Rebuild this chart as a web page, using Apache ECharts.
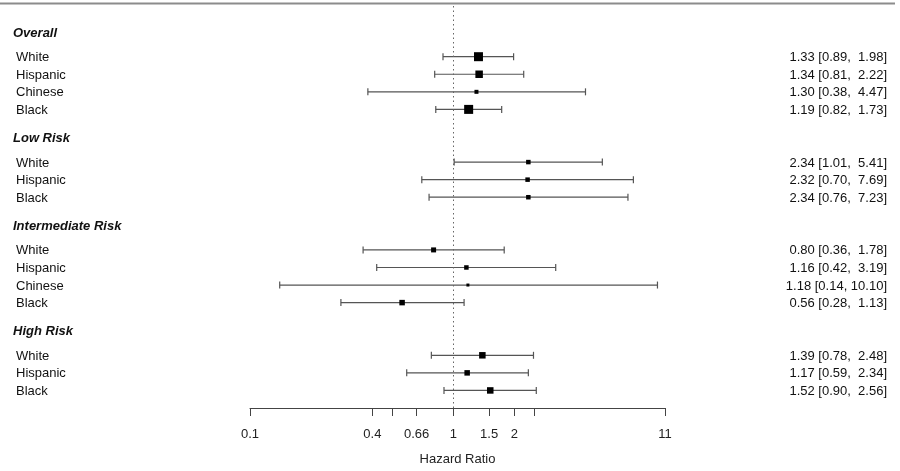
<!DOCTYPE html>
<html>
<head>
<meta charset="utf-8">
<script src="https://cdn.jsdelivr.net/npm/echarts@6/dist/echarts.min.js"></script>
<style>
  html, body { margin: 0; padding: 0; background: #fff; }
  #main { width: 900px; height: 471px; }
</style>
</head>
<body>
<div id="main"></div>
<script>
// data
var groupNames = ["Overall", "Low Risk", "Intermediate Risk", "High Risk"];
var races = [
  ["White", "Hispanic", "Chinese", "Black"],
  ["White", "Hispanic", "Black"],
  ["White", "Hispanic", "Chinese", "Black"],
  ["White", "Hispanic", "Black"]
];
var hr = [
  [1.33, 1.34, 1.30, 1.19],
  [2.34, 2.32, 2.34],
  [0.80, 1.16, 1.18, 0.56],
  [1.39, 1.17, 1.52]
];
var lower = [
  [0.89, 0.81, 0.38, 0.82],
  [1.01, 0.70, 0.76],
  [0.36, 0.42, 0.14, 0.28],
  [0.78, 0.59, 0.90]
];
var upper = [
  [1.98, 2.22, 4.47, 1.73],
  [5.41, 7.69, 7.23],
  [1.78, 3.19, 10.10, 1.13],
  [2.48, 2.34, 2.56]
];
// relative study weights (box size)
var weights = [
  [9, 7.5, 4, 9],
  [4.5, 4.5, 4.5],
  [5, 4.5, 3, 5.5],
  [6.5, 5.5, 6.5]
];
var tickValues = [0.1, 0.4, 0.5, 0.66, 1, 1.5, 2, 2.5, 11];
var labelValues = [0.1, 0.4, 0.66, 1, 1.5, 2, 11];

var FONT = "Liberation Sans";

// build the rows (y position in row units, top to bottom)
var estRows = [];
var headerRows = [];
var y = 20;
for (var g = 0; g < groupNames.length; g++) {
  headerRows.push([1, y + 1.4, groupNames[g]]);
  for (var i = 0; i < races[g].length; i++) {
    var txt = hr[g][i].toFixed(2) + " [" + lower[g][i].toFixed(2) + ", " +
      (upper[g][i] < 10 ? " " : "") + upper[g][i].toFixed(2) + "]";
    estRows.push([hr[g][i], y - i, lower[g][i], upper[g][i], weights[g][i], races[g][i], txt]);
  }
  y = y - races[g].length - 2;
}

var myChart = echarts.init(document.getElementById("main"));

var option = {
  animation: false,
  backgroundColor: "#fff",
  textStyle: { fontFamily: FONT },
  grid: { left: 250, right: 235, top: 4, bottom: 58 },
  xAxis: {
    type: "log",
    logBase: 10,
    min: 0.1,
    max: 11,
    name: "Hazard Ratio",
    nameLocation: "middle",
    nameGap: 45,
    nameTextStyle: { fontFamily: FONT, fontSize: 13, color: "#222" },
    splitLine: { show: false },
    axisLine: { show: true, lineStyle: { color: "#444", width: 1 } },
    axisTick: { show: true, length: 8, lineStyle: { color: "#444" }, customValues: tickValues },
    axisLabel: {
      fontFamily: FONT, fontSize: 13, color: "#222", margin: 20,
      customValues: labelValues,
      formatter: function (v) { return String(+v.toFixed(2)); }
    }
  },
  yAxis: {
    type: "value",
    min: 0,
    max: 23,
    show: false
  },
  graphic: [{
    type: "line",
    shape: { x1: 0, y1: 3.5, x2: 895, y2: 3.5 },
    style: { stroke: "#8c8c8c", lineWidth: 2 }
  }],
  series: [
    {
      // confidence intervals and boxes
      type: "custom",
      data: estRows,
      markLine: {
        silent: true,
        symbol: "none",
        label: { show: false },
        lineStyle: { color: "#666", type: [1.5, 3], width: 1 },
        data: [{ xAxis: 1 }]
      },
      renderItem: function (params, api) {
        var p = api.coord([api.value(0), api.value(1)]);
        var a = api.coord([api.value(2), api.value(1)]);
        var b = api.coord([api.value(3), api.value(1)]);
        var s = api.value(4);
        var stroke = { stroke: "#555", lineWidth: 1.2 };
        return {
          type: "group",
          children: [
            { type: "line", shape: { x1: a[0], y1: a[1], x2: b[0], y2: b[1] }, style: stroke },
            { type: "line", shape: { x1: a[0], y1: a[1] - 3.5, x2: a[0], y2: a[1] + 3.5 }, style: stroke },
            { type: "line", shape: { x1: b[0], y1: b[1] - 3.5, x2: b[0], y2: b[1] + 3.5 }, style: stroke },
            { type: "rect", shape: { x: p[0] - s / 2, y: p[1] - s / 2, width: s, height: s }, style: { fill: "#000" } }
          ]
        };
      }
    },
    {
      // row labels and estimate text
      type: "custom",
      data: estRows,
      silent: true,
      renderItem: function (params, api) {
        var p = api.coord([1, api.value(1)]);
        var d = estRows[params.dataIndex];
        return {
          type: "group",
          children: [
            { type: "text", x: 16, y: p[1] + 1, style: { text: d[5], fontFamily: FONT, fontSize: 13, fill: "#111", align: "left", verticalAlign: "middle" } },
            { type: "text", x: 887, y: p[1] + 1, style: { text: d[6], fontFamily: FONT, fontSize: 13, fill: "#111", align: "right", verticalAlign: "middle" } }
          ]
        };
      }
    },
    {
      // group headers
      type: "custom",
      data: headerRows,
      silent: true,
      renderItem: function (params, api) {
        var p = api.coord([1, api.value(1)]);
        return {
          type: "text", x: 13, y: p[1] + 1,
          style: { text: headerRows[params.dataIndex][2], fontFamily: FONT, fontSize: 13, fontWeight: "bold", fontStyle: "italic", fill: "#111", align: "left", verticalAlign: "middle" }
        };
      }
    }
  ]
};

myChart.setOption(option);
</script>
</body>
</html>
